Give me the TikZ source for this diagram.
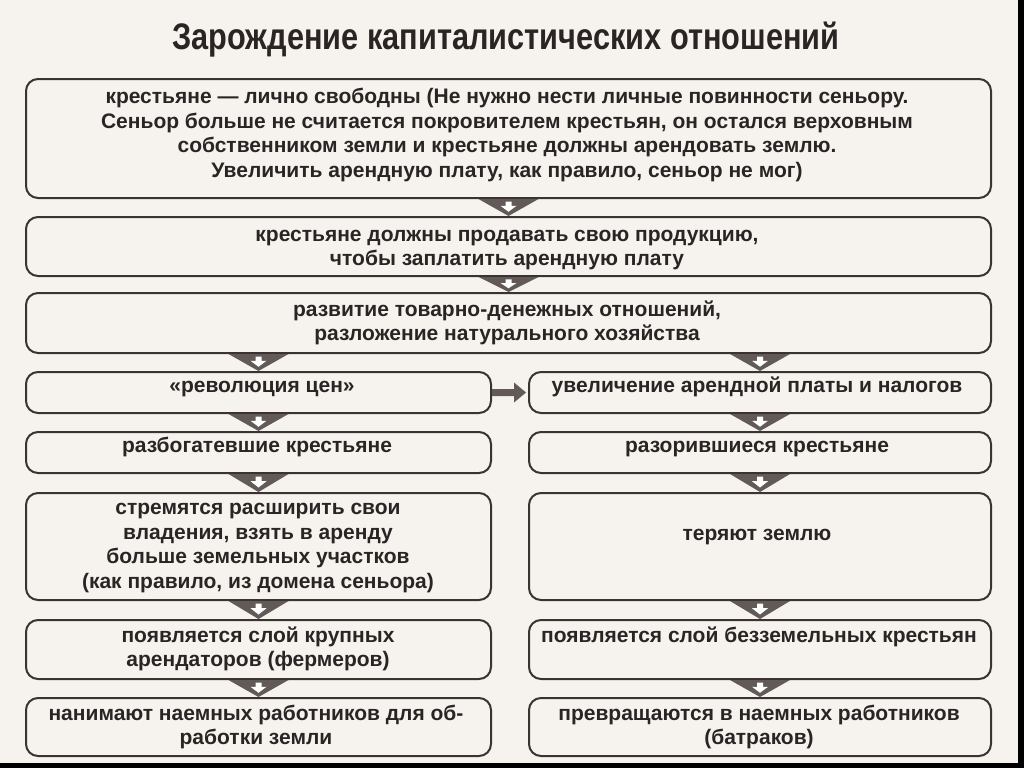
\documentclass[tikz,border=0pt]{standalone}
\usepackage{fontspec}
\setmainfont{Liberation Sans}
\usetikzlibrary{calc}
\definecolor{paper}{HTML}{F6F3EF}
\definecolor{ink}{HTML}{2A2524}
\definecolor{edge}{HTML}{3A3331}
\definecolor{arrfill}{HTML}{615A57}
\tikzset{
  box/.style={draw=edge, line width=2pt, rounded corners=12pt, inner sep=0pt, anchor=north west, fill=none},
  txt/.style={text=ink, font=\bfseries\fontsize{21}{24.5}\selectfont, align=center, inner sep=0pt},
  ttl/.style={text=ink, font=\bfseries\fontsize{37}{40}\selectfont, inner sep=0pt},
}
\newcommand{\dnarrow}[2]{%
  \fill[arrfill] let \p1=(#1), \p2=(#2) in
    (\x1-30pt,\y1) -- (\x1+30pt,\y1) -- (\x1,\y2) -- cycle;
  \fill[white] let \p1=(#1), \p2=(#2), \n1={\y1-\y2} in
    (\x1-3pt,\y1-0.15*\n1) -- (\x1+3pt,\y1-0.15*\n1) -- (\x1+3pt,\y1-0.4*\n1)
      -- (\x1+8pt,\y1-0.4*\n1) -- (\x1,\y1-0.75*\n1) -- (\x1-8pt,\y1-0.4*\n1)
      -- (\x1-3pt,\y1-0.4*\n1) -- cycle;
}
\begin{document}
\begin{tikzpicture}[x=1pt,y=-1pt]
\fill[paper] (0,0) rectangle (1024,768);
\useasboundingbox (0,0) rectangle (1024,768);
\fill[black] (1018,0) rectangle (1024,768);
\fill[black] (0,763) rectangle (1024,768);

\node[ttl] (title) at (506,40) {\scalebox{0.83}[1]{Зарождение капиталистических отношений}};

% boxes
\node[box, minimum width=965pt, minimum height=119pt] (b1) at (25,78) {};
\node[box, minimum width=965pt, minimum height=59pt] (b2) at (25,216) {};
\node[box, minimum width=965pt, minimum height=60pt] (b3) at (25,292) {};
\node[box, minimum width=465pt, minimum height=41pt] (b4l) at (25,371) {};
\node[box, minimum width=462pt, minimum height=41pt] (b4r) at (528,371) {};
\node[box, minimum width=465pt, minimum height=41pt] (b5l) at (25,431) {};
\node[box, minimum width=462pt, minimum height=41pt] (b5r) at (528,431) {};
\node[box, minimum width=465pt, minimum height=107pt] (b6l) at (25,492) {};
\node[box, minimum width=462pt, minimum height=107pt] (b6r) at (528,492) {};
\node[box, minimum width=465pt, minimum height=59pt] (b7l) at (25,619) {};
\node[box, minimum width=462pt, minimum height=59pt] (b7r) at (528,619) {};
\node[box, minimum width=465pt, minimum height=58pt] (b8l) at (25,697) {};
\node[box, minimum width=462pt, minimum height=58pt] (b8r) at (528,697) {};

% texts
\node[txt] (t1) at (507,135) {крестьяне — лично свободны (Не нужно нести личные повинности сеньору.\\
Сеньор больше не считается покровителем крестьян, он остался верховным\\
собственником земли и крестьяне должны арендовать землю.\\
Увеличить арендную плату, как правило, сеньор не мог)};
\node[txt] (t2) at (507,250) {крестьяне должны продавать свою продукцию,\\ чтобы заплатить арендную плату};
\node[txt] (t3) at (507,323) {развитие товарно-денежных отношений,\\ разложение натурального хозяйства};
\node[txt] (t4l) at (262,389) {«революция цен»};
\node[txt] (t4r) at (757,387) {увеличение арендной платы и налогов};
\node[txt] (t5l) at (257,447) {разбогатевшие крестьяне};
\node[txt] (t5r) at (757,449) {разорившиеся крестьяне};
\node[txt] (t6l) at (258,548) {стремятся расширить свои\\ владения, взять в аренду\\ больше земельных участков\\ (как правило, из домена сеньора)};
\node[txt] (t6r) at (757,537) {теряют землю};
\node[txt] (t7l) at (258,649) {появляется слой крупных\\ арендаторов (фермеров)};
\node[txt] (t7r) at (759,637) {появляется слой безземельных крестьян};
\node[txt] (t8l) at (256,727) {нанимают наемных работников для об-\\ работки земли};
\node[txt] (t8r) at (759,727) {превращаются в наемных работников\\ (батраков)};

% down arrows
\dnarrow{b1.south}{b2.north}
\dnarrow{b2.south}{b3.north}
\dnarrow{b3.south -| b4l.north}{b4l.north}
\dnarrow{b3.south -| b4r.north}{b4r.north}
\dnarrow{b4l.south}{b5l.north}
\dnarrow{b4r.south}{b5r.north}
\dnarrow{b5l.south}{b6l.north}
\dnarrow{b5r.south}{b6r.north}
\dnarrow{b6l.south}{b7l.north}
\dnarrow{b6r.south}{b7r.north}
\dnarrow{b7l.south}{b8l.north}
\dnarrow{b7r.south}{b8r.north}

% horizontal arrow
\fill[arrfill] let \p1=(b4l.east), \p2=(b4r.west) in
  (\x1,\y1-3.5pt) -- (\x2-14pt,\y1-3.5pt) -- (\x2-14pt,\y1-10pt) -- (\x2-2pt,\y1)
  -- (\x2-14pt,\y1+10pt) -- (\x2-14pt,\y1+3.5pt) -- (\x1,\y1+3.5pt) -- cycle;
\end{tikzpicture}
\end{document}
